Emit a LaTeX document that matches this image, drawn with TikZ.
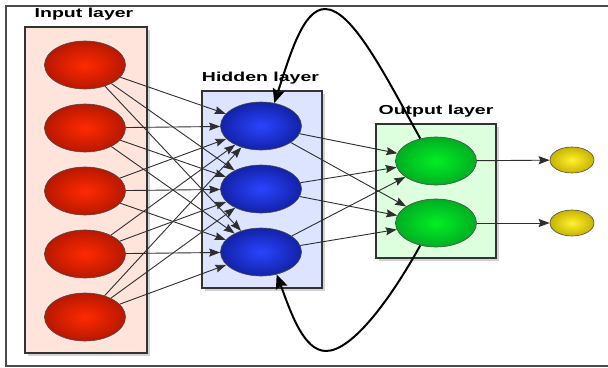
\documentclass[tikz,border=0pt]{standalone}
\usepackage{fontspec}
\usepackage{graphicx}
\setmainfont{Liberation Sans}
\usetikzlibrary{shapes.geometric,arrows.meta,shadows}
\definecolor{inbg}{HTML}{FFE4DC}
\definecolor{hidbg}{HTML}{DCE4FF}
\definecolor{outbg}{HTML}{DDFFDD}
\definecolor{redin}{HTML}{FF2A00}
\definecolor{redout}{HTML}{B81800}
\definecolor{bluein}{HTML}{2A44FF}
\definecolor{blueout}{HTML}{1222A8}
\definecolor{greenin}{HTML}{00F024}
\definecolor{greenout}{HTML}{00AE22}
\definecolor{yelin}{HTML}{FFF030}
\definecolor{yelout}{HTML}{C8B400}
\definecolor{linegray}{HTML}{2E2E2E}
\begin{document}
\begin{tikzpicture}[x=1pt,y=-1pt,
  layerbox/.style={rectangle, draw=black!80, line width=1.2pt, inner sep=0pt,
    drop shadow={shadow xshift=3pt,shadow yshift=-3pt,opacity=0.35}},
  neuron/.style={ellipse, draw=black!70, line width=0.6pt, minimum width=81pt,
    minimum height=48pt, inner sep=0pt},
  redn/.style={neuron, inner color=redin, outer color=redout},
  bluen/.style={neuron, inner color=bluein, outer color=blueout},
  greenn/.style={neuron, inner color=greenin, outer color=greenout},
  yeln/.style={neuron, minimum width=44pt, minimum height=26pt, inner color=yelin, outer color=yelout},
  conn/.style={draw=linegray, line width=0.9pt, -{Stealth[length=11pt,width=8pt,inset=1.5pt]}},
  loopconn/.style={draw=black, line width=2pt, -{Stealth[length=14pt,width=12pt,inset=2pt]}},
  lbl/.style={font=\fontsize{13}{15}\selectfont\bfseries, text=black, inner sep=0pt, anchor=base},
  frameline/.style={draw=black!70, line width=1.5pt}
]
\useasboundingbox (0,0) rectangle (608,367);
\draw[frameline] (608,6) -- (6,6) -- (6,366) -- (608,366);

% layer boxes
\node[layerbox, fill=inbg, minimum width=122pt, minimum height=326pt] (inbox) at (86,190) {};
\node[layerbox, fill=hidbg, minimum width=120pt, minimum height=197pt] (hidbox) at (262,189.5) {};
\node[layerbox, fill=outbg, minimum width=120pt, minimum height=134pt] (outbox) at (436,191) {};

% labels
\node[lbl] (lin) at (84,17) {\scalebox{1.5}[1]{Input layer}};
\node[lbl] (lhid) at (260.5,81) {\scalebox{1.5}[1]{Hidden layer}};
\node[lbl] (lout) at (436,114) {\scalebox{1.5}[1]{Output layer}};

% neurons
\node[redn] (i1) at (85,65) {};
\node[redn] (i2) at (85,128) {};
\node[redn] (i3) at (85,191) {};
\node[redn] (i4) at (85,254) {};
\node[redn] (i5) at (85,317) {};
\node[bluen] (h1) at (261,126) {};
\node[bluen] (h2) at (261,189) {};
\node[bluen] (h3) at (261,252) {};
\node[greenn] (o1) at (436,161) {};
\node[greenn] (o2) at (436,223) {};
\node[yeln] (y1) at (572,160) {};
\node[yeln] (y2) at (572,223) {};

% connections
\foreach \i in {1,...,5}{
  \foreach \j in {1,2,3}{
    \draw[conn] (i\i) -- (h\j);
  }
}
\foreach \j in {1,2,3}{
  \foreach \k in {1,2}{
    \draw[conn] (h\j) -- (o\k);
  }
}
\draw[conn] (o1) -- (y1);
\draw[conn] (o2) -- (y2);

% feedback loops
\draw[loopconn] (o1.125) .. controls (385,75) and (352,9) .. (325,9)
  .. controls (303,9) and (290,55) .. (h1.60);
\draw[loopconn] (o2.235) .. controls (390,300) and (352,351) .. (326,351)
  .. controls (303,351) and (290,310) .. (h3.-55);
\end{tikzpicture}
\end{document}
